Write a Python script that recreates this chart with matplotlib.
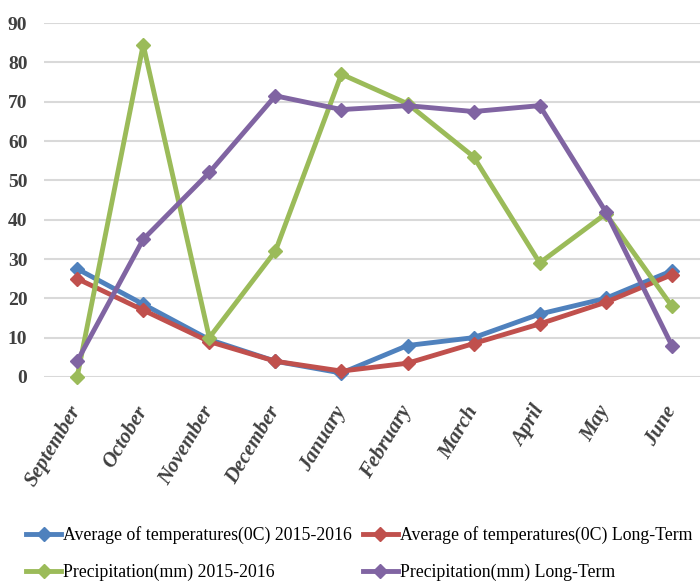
import matplotlib.pyplot as plt
import numpy as np

months = ["September", "October", "November", "December", "January",
          "February", "March", "April", "May", "June"]
temp_2015_2016 = [27.5, 18.5, 9.5, 4, 1, 8, 10, 16, 20, 27]
temp_long_term = [25, 17, 9, 4, 1.5, 3.5, 8.5, 13.5, 19, 26]
precip_2015_2016 = [0, 84.5, 10, 32, 77, 69.5, 56, 29, 41.5, 18]
precip_long_term = [4, 35, 52, 71.5, 68, 69, 67.5, 69, 42, 8]

plt.rcParams['font.family'] = ['Liberation Serif', 'DejaVu Serif']

fig = plt.figure(figsize=(7, 5.84), dpi=100)
ax = fig.add_axes([0.063, 0.3545, 0.944, 0.606])

x = np.arange(len(months))
series = [
    (temp_2015_2016, "#4F81BD", "Average of temperatures(0C) 2015-2016"),
    (temp_long_term, "#C0504D", "Average of temperatures(0C) Long-Term"),
    (precip_2015_2016, "#9BBB59", "Precipitation(mm) 2015-2016"),
    (precip_long_term, "#8064A2", "Precipitation(mm) Long-Term"),
]
handles = []
for vals, color, label in series:
    h, = ax.plot(x, vals, color=color, lw=3.5, marker="D", ms=7,
                 label=label, clip_on=False, zorder=3)
    handles.append(h)

ax.set_xlim(-0.5, 9.5)
ax.set_ylim(0, 90)
ax.set_yticks(range(0, 91, 10))
ax.grid(axis="y", color="#D9D9D9", lw=1.5)
ax.set_axisbelow(True)
for s in ax.spines.values():
    s.set_visible(False)
ax.tick_params(length=0)
ax.tick_params(axis="y", pad=12)
ax.tick_params(axis="x", pad=22)
ax.set_xticks(x)
ax.set_xticklabels(months, rotation=59, ha="right", va="center",
                   rotation_mode="anchor", fontsize=15, fontweight="bold",
                   fontstyle="italic", color="#404040")
for t in ax.get_yticklabels():
    t.set_fontsize(14)
    t.set_fontweight("bold")
    t.set_color("#404040")

# legend fills column-wise, so reorder to get blue/red on the first row
order = [0, 2, 1, 3]
fig.legend(handles=[handles[i] for i in order], loc="lower left",
           bbox_to_anchor=(0.014, -0.022), ncol=2, frameon=False,
           handlelength=2.0, handletextpad=0.1, columnspacing=0.6,
           labelspacing=1.1, prop={'size': 12.8})

fig.savefig("out.png", dpi=100)
